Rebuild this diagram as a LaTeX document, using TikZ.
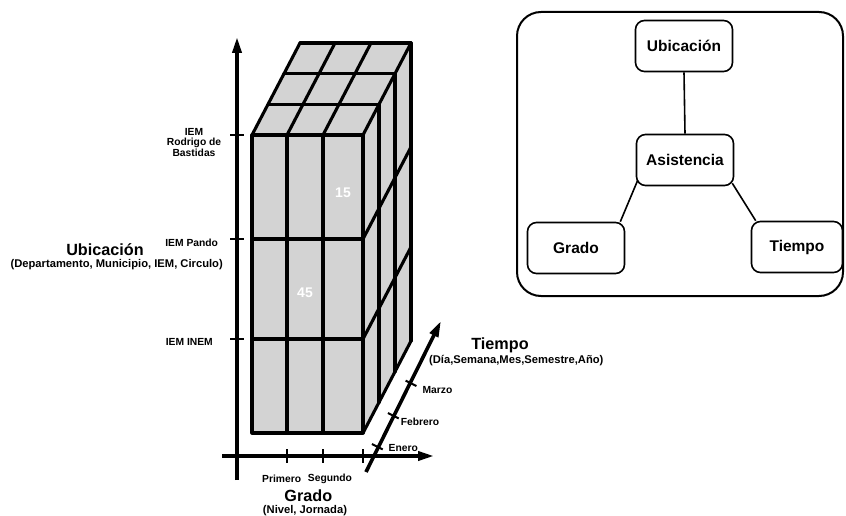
\documentclass[tikz,border=0pt]{standalone}
\usepackage{fontspec}
\setmainfont{Liberation Sans}
\usetikzlibrary{arrows.meta,calc}
\definecolor{cubefill}{RGB}{211,211,211}
\begin{document}
\begin{tikzpicture}[x=1pt,y=-1pt,
  cubeline/.style={line width=3.1pt, line join=round, line cap=round},
  axisline/.style={line width=3.6pt},
  tickmark/.style={line width=2pt},
  axarrow/.style={-{Triangle[length=16pt,width=9pt]}},
  ticklbl/.style={font=\fontsize{10.3}{10.7}\selectfont\bfseries, align=center, inner sep=0pt},
  axtitle/.style={font=\fontsize{16.2}{17}\selectfont\bfseries, inner sep=0pt, anchor=base},
  axsub/.style={font=\fontsize{11.2}{12}\selectfont\bfseries, inner sep=0pt, anchor=base},
  cellnum/.style={font=\fontsize{14}{14}\selectfont\bfseries, text=white, inner sep=0pt},
  dimbox/.style={draw, line width=1.6pt, rounded corners=9pt, fill=white,
    minimum width=97pt, minimum height=51pt, font=\fontsize{15.5}{16}\selectfont\bfseries},
  link/.style={line width=1.6pt}
]
\useasboundingbox (0,0) rectangle (846,516);

% ---------- data cube ----------
% front face, top face, right face
\fill[cubefill] (252,135) rectangle (363,433);
\fill[cubefill] (252,135) -- (300,43) -- (411,43) -- (363,135) -- cycle;
\fill[cubefill] (363,135) -- (411,43) -- (411,341) -- (363,433) -- cycle;
% front grid
\draw[cubeline] (252,135) rectangle (363,433);
\foreach \x in {287,323} \draw[cubeline] (\x,135) -- (\x,433);
\foreach \y in {239,339} \draw[cubeline] (252,\y) -- (363,\y);
% top grid
\foreach \k in {1,2,3}
  \draw[cubeline] ({252+16*\k},{135-30.667*\k}) -- ({363+16*\k},{135-30.667*\k});
\foreach \x in {252,287,323}
  \draw[cubeline] (\x,135) -- (\x+48,43);
% right grid
\draw[cubeline] (363,135) -- (411,43);
\foreach \k in {1,2,3}
  \draw[cubeline] ({363+16*\k},{135-30.667*\k}) -- ({363+16*\k},{433-30.667*\k});
\foreach \y in {239,339,433}
  \draw[cubeline] (363,\y) -- (411,\y-92);
\node[cellnum] (v15) at (343,193) {15};
\node[cellnum] (v45) at (305,293) {45};

% ---------- axes ----------
\coordinate (yb) at (237,480);
\coordinate (yt) at (237,37);
\draw[axisline,axarrow] (yb) -- (yt);
\coordinate (xl) at (222,456);
\coordinate (xr) at (434,456);
\draw[axisline,axarrow] (xl) -- (xr);
\coordinate (tb) at (366,472);
\coordinate (tt) at (441,321);
\draw[axisline,axarrow] (tb) -- (tt);

\foreach \y in {135,239,339} \draw[tickmark] (230,\y) -- (244,\y);
\foreach \x in {287,323,363} \draw[tickmark] (\x,449) -- (\x,463);
\foreach \px/\py in {377.3/446.7,393.3/415.7,411/383.3}
  \draw[tickmark] (\px-5.4,\py-2.7) -- (\px+5.4,\py+2.7);

% ---------- axis labels ----------
\node[ticklbl] (rb) at (194,142.5) {IEM\\Rodrigo de\\Bastidas};
\node[ticklbl] (pando) at (191.7,242.5) {IEM Pando};
\node[ticklbl] (inem) at (189.3,342) {IEM INEM};
\node[axtitle] (ubt) at (105,255) {Ubicación};
\node[axsub] (ubs) at (116.7,267) {(Departamento, Municipio, IEM, Circulo)};

\node[ticklbl] (prim) at (281.7,478.8) {Primero};
\node[ticklbl] (seg) at (330,478.8) {Segundo};
\node[axtitle] (grt) at (308.3,501) {Grado};
\node[axsub] (grs) at (305,513.3) {(Nivel, Jornada)};

\node[ticklbl] (ene) at (403.3,447.7) {Enero};
\node[ticklbl] (feb) at (420,422) {Febrero};
\node[ticklbl] (mar) at (437.5,390) {Marzo};
\node[axtitle] (tit) at (500,349) {Tiempo};
\node[axsub] (tis) at (516.3,363.3) {(Día,Semana,Mes,Semestre,Año)};

% ---------- dimension graph ----------
\draw[line width=2pt, rounded corners=24pt] (517,12) rectangle (843,296);
\node[dimbox] (ub) at (684,46) {Ubicación};
\node[dimbox] (as) at (685,160) {Asistencia};
\node[dimbox] (gr) at (576,248) {Grado};
\node[dimbox, minimum width=91pt] (ti) at (797,247) {Tiempo};
\draw[link] (ub.south) -- (as.north);
\draw[link] ($(as.south west)+(2,-6)$) -- ($(gr.north east)+(-5,0)$);
\draw[link] ($(as.south east)+(-2,-3)$) -- ($(ti.north west)+(5,0)$);
\end{tikzpicture}
\end{document}
